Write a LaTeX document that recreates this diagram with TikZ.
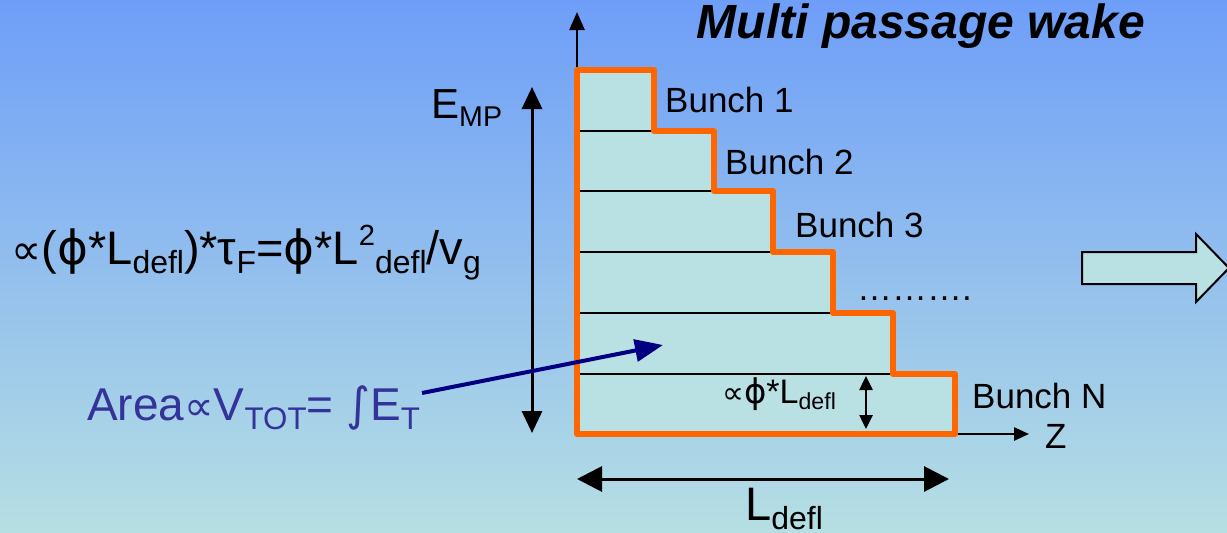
\documentclass[tikz,border=0pt]{standalone}
\usepackage{fontspec}
\usepackage{graphicx}
\setmainfont{Liberation Sans}
\newfontfamily\symfont{DejaVu Sans}
\usetikzlibrary{arrows.meta}

\definecolor{skytop}{HTML}{6E9EF8}
\definecolor{skymid}{HTML}{9CC5EC}
\definecolor{skybot}{HTML}{B6DFE3}
\definecolor{wakefill}{HTML}{B9E0E3}
\definecolor{wakeedge}{HTML}{FF6600}
\definecolor{arealbl}{HTML}{333399}
\definecolor{areaarrow}{HTML}{000080}

\newcommand{\prop}{\scalebox{0.9}{\symfont ∝}}
\newcommand{\ph}{{\symfont ϕ}}
\newcommand{\lo}[1]{\raisebox{-0.2em}{\scalebox{0.68}{#1}}}
\newcommand{\hi}[1]{\raisebox{0.4em}{\scalebox{0.62}{#1}}}

\begin{document}
\begin{tikzpicture}
[
    x=1pt, y=-1pt,
    wake/.style={draw=wakeedge, line width=6pt, line join=round},
    slice/.style={line width=1.5pt},
    axis/.style={line width=2.5pt, -{Triangle[length=18pt,width=15pt]}},
    span/.style={line width=3pt, {Triangle[length=22pt,width=20pt]}-{Triangle[length=22pt,width=20pt]}},
    lbl/.style={font=\fontsize{35}{42}\selectfont, anchor=base west, inner sep=0pt},
    big/.style={font=\fontsize{47}{56}\selectfont, anchor=base west, inner sep=0pt}
]
    \shade[top color=skytop, middle color=skymid, bottom color=skybot] (0,0) rectangle (1227,533);
    \useasboundingbox (0,0) rectangle (1227,533);

    % axes
    \coordinate (origin) at (577,434);
    \coordinate (etop) at (577,12);
    \coordinate (zfrom) at (955,434);
    \coordinate (zend) at (1029,434);
    \draw[axis] (origin) -- (etop);
    \draw[line width=2.5pt, -{Triangle[length=15pt,width=13pt]}] (zfrom) -- (zend);

    % the bunches
    \fill[wakefill] (577,70) -| (654,131) -| (714,191) -| (773,252) -| (833,313) -| (893,374) -| (955,434) -- (577,434) -- cycle;
    \foreach \y/\x in {131/654, 191/714, 252/773, 313/833, 374/893}
        \draw[slice] (577,\y) -- (\x,\y);
    \draw[wake] (577,70) -| (654,131) -| (714,191) -| (773,252) -| (833,313) -| (893,374) -| (955,434) -- (577,434) -- cycle;

    \node[font=\fontsize{48}{58}\selectfont\bfseries\itshape, anchor=base, inner sep=0pt] (title) at (921,38) {Multi passage wake};

    \foreach \n/\x/\y/\t in {1/665/112/Bunch 1, 2/725/174/Bunch 2, 3/795/237/Bunch 3, 4/857/300/……….}
        \node[lbl] (bunch\n) at (\x,\y) {\t};
    \node[lbl] (bunchN) at (972,408) {Bunch N};
    \node[lbl] (zlbl) at (1045,448) {Z};

    % energy
    \coordinate (emptop) at (532,87);
    \coordinate (empbot) at (532,433);
    \draw[span] (emptop) -- (empbot);
    \node[font=\fontsize{42}{50}\selectfont, anchor=base west, inner sep=0pt] (emp) at (431,118) {E\lo{MP}};
    \node[big] (tau) at (11,264) {\prop(\ph*L\lo{defl})*τ\lo{F}=\ph*L\hi{2}\lo{defl}/v\lo{g}};

    % length
    \coordinate (lleft) at (577,479);
    \coordinate (lright) at (949,479);
    \draw[span, {Triangle[length=25pt,width=25pt]}-{Triangle[length=25pt,width=25pt]}] (lleft) -- (lright);
    \node[big] (ldefl) at (745,520) {L\lo{defl}};

    % slice height
    \coordinate (htop) at (866,376);
    \coordinate (hbot) at (866,429);
    \draw[line width=2.5pt, {Triangle[length=14pt,width=13pt]}-{Triangle[length=14pt,width=13pt]}] (htop) -- (hbot);
    \node[font=\fontsize{34}{40}\selectfont, anchor=base west, inner sep=0pt] (hlbl) at (722,403) {\prop\ph*L\lo{defl}};

    % area
    \node[font=\fontsize{46}{55}\selectfont, anchor=base west, inner sep=0pt, text=arealbl] (area) at (87,420) {Area\prop V\lo{TOT}= {\symfont ∫}E\lo{T}};
    \coordinate (areafrom) at (422,393);
    \coordinate (areatip) at (663,345);
    \draw[areaarrow, line width=4pt, -{Triangle[length=28pt,width=22pt]}] (areafrom) -- (areatip);

    % next step
    \draw[line width=2pt, fill=wakefill] (1082,252) -- (1196,252) -- (1196,234) -- (1229,268) -- (1196,302) -- (1196,284) -- (1082,284) -- cycle;
\end{tikzpicture}
\end{document}
